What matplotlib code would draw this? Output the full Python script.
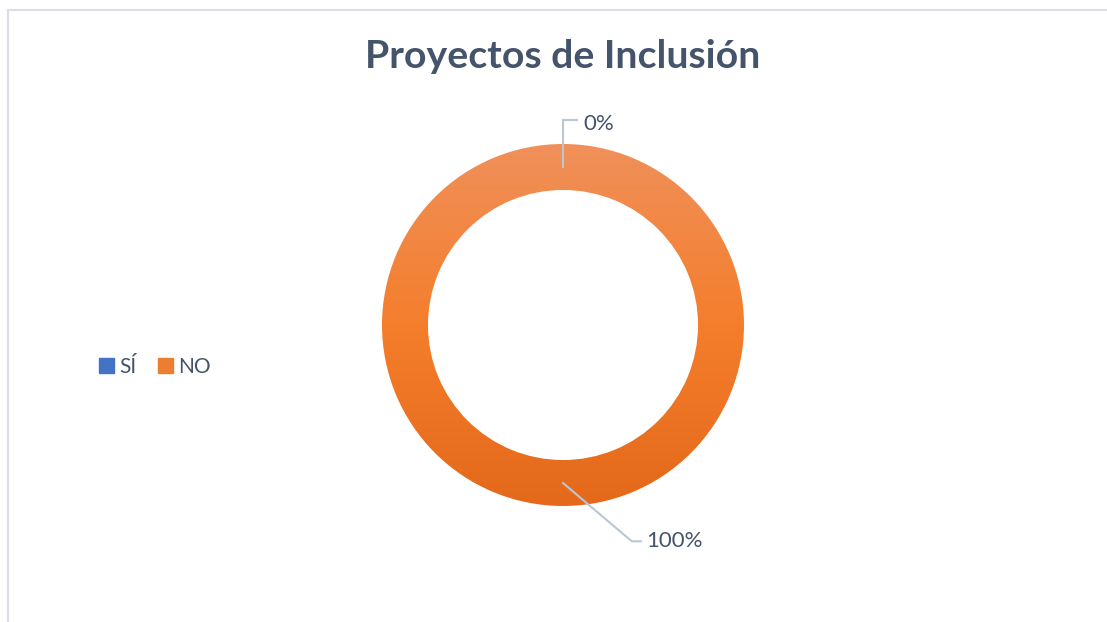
import numpy as np
import matplotlib
matplotlib.use('Agg')
import matplotlib.pyplot as plt
from matplotlib.colors import LinearSegmentedColormap
from matplotlib.patches import Rectangle
from matplotlib.lines import Line2D

title = 'Proyectos de Inclusión'
categories = ['SÍ', 'NO']
values = [0, 100]
legend_colors = ['#4472C4', '#ED7D31']

text_color = '#44546A'
leader_color = '#BCC6D2'

fig = plt.figure(figsize=(11.07, 6.22), dpi=100)

# chart border (only top and left visible in the crop)
fig.add_artist(Line2D([8 / 1107, 1], [1 - 10 / 622] * 2, color='#D9DEE6', lw=1.5))
fig.add_artist(Line2D([8 / 1107] * 2, [0, 1 - 10 / 622], color='#D9DEE6', lw=1.5))

fig.text(563 / 1107, 1 - 57 / 622, title, ha='center', va='center',
         fontsize=28.3, fontweight='bold', color=text_color, family='Lato')

ax = fig.add_axes([(563 - 181) / 1107, (622 - 325 - 181) / 622, 362 / 1107, 362 / 622])
ax.axis('off')

total = sum(values)
width = 0.254
wedges, _ = ax.pie(values, radius=1, startangle=90, counterclock=False,
                   colors=legend_colors, wedgeprops=dict(width=width, linewidth=0))

# vertical gradient fill for the ring
grad = LinearSegmentedColormap.from_list('g', ['#E4691A', '#F47E2C', '#F0905A'])
img_data = np.linspace(0, 1, 256).reshape(-1, 1)
for w, v in zip(wedges, values):
    if v > 0:
        w.set_facecolor('none')
        im = ax.imshow(img_data, cmap=grad, extent=[-1, 1, -1, 1], origin='lower',
                       aspect='auto', zorder=0)
        im.set_clip_path(w)
ax.set_xlim(-1, 1)
ax.set_ylim(-1, 1)
ax.set_aspect('equal')

# data labels with leader lines
r_mid = 1 - width / 2
angle = 90.0
for i, v in enumerate(values):
    span = 360.0 * v / total
    mid = np.deg2rad(angle - span / 2)
    angle -= span
    x0, y0 = r_mid * np.cos(mid), r_mid * np.sin(mid)
    pct = '{:.0f}%'.format(100.0 * v / total)
    if y0 > 0:
        pts = [(x0, y0), (x0, 1.13), (x0 + 0.075, 1.13)]
        tx, ty = x0 + 0.115, 1.11
    else:
        pts = [(x0, y0), (x0 + 0.38, -1.195), (x0 + 0.43, -1.195)]
        tx, ty = x0 + 0.46, -1.195
    ax.plot([p[0] for p in pts], [p[1] for p in pts], color=leader_color, lw=1.5,
            clip_on=False, solid_joinstyle='miter')
    ax.text(tx, ty, pct, ha='left', va='center', fontsize=16, color=text_color,
            family='Lato', clip_on=False)

# legend
handles = [Rectangle((0, 0), 1, 1, color=c) for c in legend_colors]
fig.legend(handles, categories, loc='center left', bbox_to_anchor=(80 / 1107, 1 - 367 / 622),
           ncol=2, frameon=False, handlelength=0.75, handleheight=0.75, handletextpad=0.25,
           columnspacing=1.0, prop=dict(family='Lato', size=15), labelcolor=text_color)

plt.savefig('out.png', dpi=100)
